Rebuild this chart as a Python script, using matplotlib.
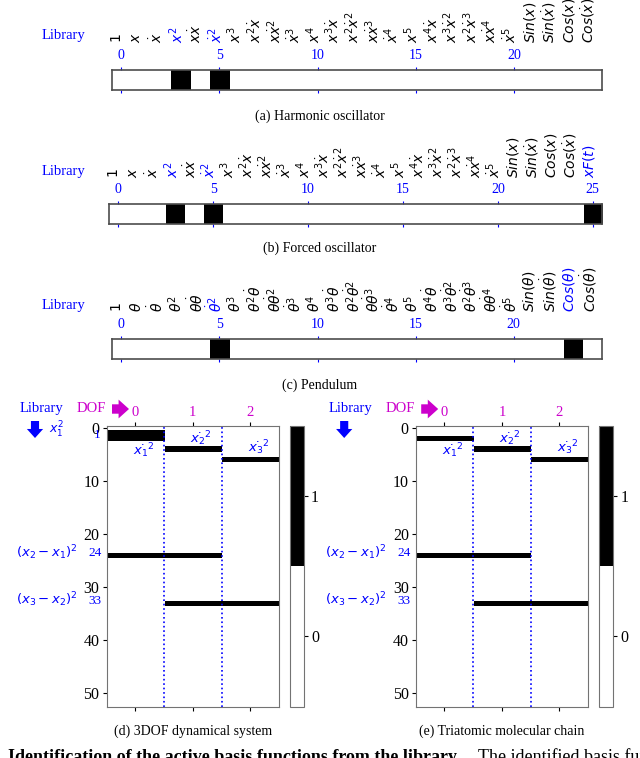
import numpy as np
import matplotlib
matplotlib.use('Agg')
import matplotlib.pyplot as plt
from matplotlib import transforms
from matplotlib.colors import ListedColormap
from matplotlib.patches import FancyArrowPatch

plt.rcParams['font.family'] = 'serif'
plt.rcParams['font.serif'] = ['Liberation Serif', 'DejaVu Serif']
plt.rcParams['mathtext.fontset'] = 'dejavusans'

W, H = 640, 758
BLUE = 'blue'
MAGENTA = '#cc00cc'

# library terms (a), (b), (c)
harmonic_terms = ['1', 'x', r'\dot{x}', 'x^2', r'x\dot{x}', r'\dot{x}^2',
                  'x^3', r'x^2\dot{x}', r'x\dot{x}^2', r'\dot{x}^3',
                  'x^4', r'x^3\dot{x}', r'x^2\dot{x}^2', r'x\dot{x}^3', r'\dot{x}^4',
                  'x^5', r'x^4\dot{x}', r'x^3\dot{x}^2', r'x^2\dot{x}^3', r'x\dot{x}^4',
                  r'\dot{x}^5', 'Sin(x)', r'Sin(\dot{x})', 'Cos(x)', r'Cos(\dot{x})']
harmonic_active = [3, 5]

forced_terms = harmonic_terms + ['xF(t)']
forced_active = [3, 5, 25]

pendulum_terms = [t.replace('x', r'\theta ') for t in harmonic_terms]
pendulum_active = [5, 23]

# identified terms (d), (e): library row index, DOF column
n_library = 53
n_dof = 3
dof3_rows = [1, 2, 4, 6, 24, 24, 33, 33]
dof3_cols = [0, 0, 1, 2, 0, 1, 1, 2]
chain_rows = [2, 4, 6, 24, 24, 33, 33]
chain_cols = [0, 1, 2, 0, 1, 1, 2]

fig = plt.figure(figsize=(W / 100, H / 100), dpi=100)


def fx(x):
    return x / W


def fy(y):
    return 1 - y / H


def draw_library(rect, terms, active, label_y, lib_y, caption, cap_y):
    l, t, r, b = rect
    ax = fig.add_axes([fx(l), fy(b), (r - l) / W, (b - t) / H])
    row = np.zeros((1, len(terms)))
    row[0, active] = 1
    ax.imshow(row, cmap='gray_r', vmin=0, vmax=1, aspect='auto')
    ax.set_yticks([])
    ax.set_xticks(np.arange(0, len(terms), 5))
    ax.tick_params(axis='x', top=True, labeltop=True, bottom=True,
                   labelbottom=False, colors=BLUE, labelsize=10,
                   length=2.5, pad=3)
    for s in ax.spines.values():
        s.set_color('0.3')
        s.set_linewidth(1.2)

    # rotated library labels above the bar (slightly left of the ticks)
    trans = transforms.blended_transform_factory(ax.transData, fig.transFigure)
    trans = trans + transforms.ScaledTranslation(-4 / 100, 0, fig.dpi_scale_trans)
    for i, term in enumerate(terms):
        ax.text(i, fy(label_y), f'${term}$', transform=trans, rotation=90,
                ha='center', va='bottom', fontsize=10,
                color=BLUE if i in active else 'black')

    fig.text(fx(63), fy(lib_y), 'Library', color=BLUE, fontsize=10.5,
             ha='center', va='center')
    fig.text(0.5, fy(cap_y), caption, fontsize=10, ha='center', va='center')


def arrow(p0, p1, color, scale):
    fig.add_artist(FancyArrowPatch((fx(p0[0]), fy(p0[1])), (fx(p1[0]), fy(p1[1])),
                                   transform=fig.transFigure, color=color,
                                   arrowstyle='simple,head_length=0.5,head_width=0.9,tail_width=0.45',
                                   mutation_scale=scale, lw=0,
                                   shrinkA=0, shrinkB=0))


def draw_dof(x0, rows, cols, caption, first):
    l, r, t, b = 106.5 + x0, 279 + x0, 425.6, 706.7
    ax = fig.add_axes([fx(l), fy(b), (r - l) / W, (b - t) / H])
    img = np.zeros((n_library, n_dof))
    img[rows, cols] = 1
    cmap = ListedColormap(['white', 'black'])
    im = ax.imshow(img, cmap=cmap, vmin=0, vmax=1, aspect='auto',
                   interpolation='nearest')
    ax.set_xticks(range(n_dof))
    ax.set_yticks(range(0, n_library, 10))
    ax.tick_params(axis='x', top=True, labeltop=True, bottom=True,
                   labelbottom=False, labelcolor=MAGENTA, labelsize=10.5,
                   length=3, pad=2)
    ax.tick_params(axis='y', labelsize=11.5, length=3, pad=2)
    for s in ax.spines.values():
        s.set_color('0.45')
    for v in [0.5, 1.5]:
        ax.axvline(v, color=BLUE, ls=':', lw=1.2)

    cax = fig.add_axes([fx(289.5 + x0), fy(b), 14.5 / W, (b - t) / H])
    cb = fig.colorbar(im, cax=cax, ticks=[0.25, 0.75])
    cb.set_ticklabels(['0', '1'])
    cb.outline.set_edgecolor('0.45')
    cax.tick_params(labelsize=11.5, length=3, pad=2)

    # annotations
    fig.text(fx(41 + x0), fy(408), 'Library', color=BLUE, fontsize=10.5,
             ha='center', va='center')
    fig.text(fx(91.5 + x0), fy(408), 'DOF', color=MAGENTA, fontsize=10.5,
             ha='center', va='center')
    arrow((35 + x0, 421), (35 + x0, 438), BLUE, 13)
    arrow((112 + x0, 409), (129 + x0, 409), MAGENTA, 15)
    if first:
        fig.text(fx(56), fy(430), r'$x_1^2$', color=BLUE, fontsize=9,
                 ha='center', va='center')
        fig.text(fx(97), fy(435), '1', color=BLUE, fontsize=9.5,
                 ha='center', va='center')
    fig.text(fx(144 + x0), fy(451), r'$\dot{x_1}^2$', color=BLUE, fontsize=9.5,
             ha='center', va='center')
    fig.text(fx(201 + x0), fy(439), r'$\dot{x_2}^2$', color=BLUE, fontsize=9.5,
             ha='center', va='center')
    fig.text(fx(259 + x0), fy(448), r'$\dot{x_3}^2$', color=BLUE, fontsize=9.5,
             ha='center', va='center')
    fig.text(fx(46.5 + x0), fy(553), r'$(x_2-x_1)^2$', color=BLUE, fontsize=9.5,
             ha='center', va='center')
    fig.text(fx(95 + x0), fy(553), '24', color=BLUE, fontsize=9.5,
             ha='center', va='center')
    fig.text(fx(46.5 + x0), fy(600), r'$(x_3-x_2)^2$', color=BLUE, fontsize=9.5,
             ha='center', va='center')
    fig.text(fx(95 + x0), fy(601), '33', color=BLUE, fontsize=9.5,
             ha='center', va='center')
    fig.text(fx((l + r) / 2), fy(731), caption, fontsize=10,
             ha='center', va='center')


draw_library((111.5, 70, 602.3, 90), harmonic_terms, harmonic_active,
             43, 36, '(a) Harmonic oscillator', 116)
draw_library((108.8, 204, 602.3, 224), forced_terms, forced_active,
             178, 172, '(b) Forced oscillator', 248)
draw_library((111.5, 339, 602, 358.7), pendulum_terms, pendulum_active,
             312, 306, '(c) Pendulum', 385)

draw_dof(0, dof3_rows, dof3_cols, '(d) 3DOF dynamical system', True)
draw_dof(309.2, chain_rows, chain_cols, '(e) Triatomic molecular chain', False)

# figure caption, cut off by the bottom edge
fig.text(fx(8), fy(757), 'Identification of the active basis functions from the library.',
         fontsize=13, weight='bold', ha='left', va='center')
fig.text(fx(478), fy(757), 'The identified basis functions are',
         fontsize=13, ha='left', va='center')

fig.savefig('out.png', dpi=100)
